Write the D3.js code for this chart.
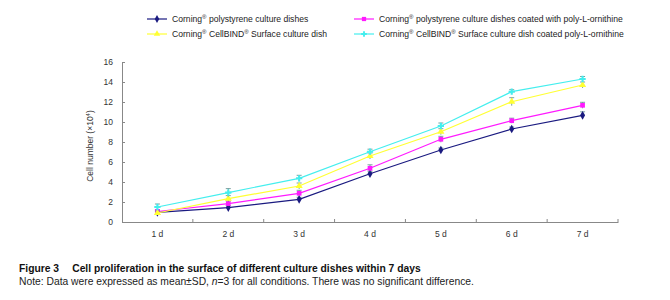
<!DOCTYPE html>
<html>
<head>
<meta charset="utf-8">
<script src="https://cdn.jsdelivr.net/npm/d3@7"></script>
<style>
  body { margin: 0; background: #fff; }
  svg { font-family: "Liberation Sans", Arial, sans-serif; }
</style>
</head>
<body>
<div id="chart"></div>
<script>
// data
const days = ["1 d", "2 d", "3 d", "4 d", "5 d", "6 d", "7 d"];
const yTicks = [0, 2, 4, 6, 8, 10, 12, 14, 16];

const polystyrene = [0.97, 1.44, 2.27, 4.83, 7.2, 9.3, 10.67];
const polystyreneSD = [0.15, 0.2, 0.2, 0.25, 0.2, 0.2, 0.35];
const polyOrnithine = [1.05, 1.84, 2.87, 5.37, 8.27, 10.13, 11.67];
const polyOrnithineSD = [0.2, 0.25, 0.3, 0.35, 0.3, 0.25, 0.3];
const cellBind = [0.9, 2.34, 3.6, 6.6, 9.03, 12.03, 13.7];
const cellBindSD = [0.2, 0.3, 0.3, 0.3, 0.3, 0.4, 0.3];
const cellBindOrn = [1.5, 2.94, 4.37, 7.03, 9.6, 13.03, 14.3];
const cellBindOrnSD = [0.3, 0.4, 0.3, 0.25, 0.3, 0.2, 0.25];

const series = [
  { name: "polystyrene culture dishes", bind: false, values: polystyrene, sd: polystyreneSD, color: "#1a1a80", symbol: d3.symbolDiamond },
  { name: "polystyrene culture dishes coated with poly-L-ornithine", bind: false, values: polyOrnithine, sd: polyOrnithineSD, color: "#ff1aff", symbol: d3.symbolSquare },
  { name: "Surface culture dish", bind: true, values: cellBind, sd: cellBindSD, color: "#ffff33", symbol: d3.symbolTriangle },
  { name: "Surface culture dish coated poly-L-ornithine", bind: true, values: cellBindOrn, sd: cellBindOrnSD, color: "#44eeee", symbol: d3.symbolCross }
];

const width = 670, height = 300;
const margin = { left: 122, right: 52, top: 62, bottom: 78 };

const svg = d3.select("#chart")
  .append("svg")
  .attr("width", width)
  .attr("height", height);

const x = d3.scaleBand()
  .domain(days)
  .range([margin.left, width - margin.right]);

const y = d3.scaleLinear()
  .domain([0, 16])
  .range([height - margin.bottom, margin.top]);

// axes
const axisColor = "#888";
const xAxis = svg.append("g")
  .attr("transform", `translate(0,${y(0)})`)
  .call(d3.axisBottom(x).tickSize(0).tickPadding(9));
xAxis.select(".domain").attr("stroke", axisColor);
xAxis.selectAll("text").attr("font-size", 8.5).attr("fill", "#333");

// x ticks at the band edges, pointing up
svg.append("g")
  .selectAll("line")
  .data(days)
  .join("line")
  .attr("x1", d => x(d) + x.bandwidth())
  .attr("x2", d => x(d) + x.bandwidth())
  .attr("y1", y(0))
  .attr("y2", y(0) - 3)
  .attr("stroke", axisColor);

const yAxis = svg.append("g")
  .attr("transform", `translate(${margin.left},0)`)
  .call(d3.axisLeft(y).tickValues(yTicks).tickSizeInner(-3).tickSizeOuter(0).tickPadding(9));
yAxis.select(".domain").attr("stroke", axisColor);
yAxis.selectAll(".tick line").attr("stroke", axisColor);
yAxis.selectAll("text").attr("font-size", 8.5).attr("fill", "#333");

// y axis title
const yt = svg.append("text")
  .attr("transform", `translate(93,146) rotate(-90)`)
  .attr("text-anchor", "middle")
  .attr("font-size", 8.5)
  .attr("fill", "#333");
yt.append("tspan").text("Cell number (×10");
yt.append("tspan").attr("font-size", 6).attr("dy", -3).text("4");
yt.append("tspan").attr("dy", 3).text(")");

// lines, error bars, markers
const cx = d => x(d) + x.bandwidth() / 2;
const line = d3.line()
  .x((d, i) => cx(days[i]))
  .y(d => y(d));

series.forEach(s => {
  const g = svg.append("g");
  g.append("path")
    .datum(s.values)
    .attr("fill", "none")
    .attr("stroke", s.color)
    .attr("stroke-width", 1.2)
    .attr("d", line);

  const eb = g.selectAll(".eb")
    .data(s.values)
    .join("g");
  eb.append("line")
    .attr("x1", (d, i) => cx(days[i]))
    .attr("x2", (d, i) => cx(days[i]))
    .attr("y1", (d, i) => y(d - s.sd[i]))
    .attr("y2", (d, i) => y(d + s.sd[i]))
    .attr("stroke", "#5a8a8a")
    .attr("stroke-width", 0.8);
  eb.append("line")
    .attr("x1", (d, i) => cx(days[i]) - 2.5)
    .attr("x2", (d, i) => cx(days[i]) + 2.5)
    .attr("y1", (d, i) => y(d + s.sd[i]))
    .attr("y2", (d, i) => y(d + s.sd[i]))
    .attr("stroke", "#5a8a8a")
    .attr("stroke-width", 0.8);

  g.selectAll(".pt")
    .data(s.values)
    .join("path")
    .attr("transform", (d, i) => `translate(${cx(days[i])},${y(d)})`)
    .attr("d", d3.symbol().type(s.symbol).size(22))
    .attr("fill", s.color);
});

// legend
const legendPos = [[147, 19], [354, 19], [147, 34], [354, 34]];
series.forEach((s, i) => {
  const [lx, ly] = legendPos[i];
  const lg = svg.append("g").attr("transform", `translate(${lx},${ly})`);
  lg.append("line").attr("x1", 0).attr("x2", 20).attr("stroke", s.color).attr("stroke-width", 1.2);
  lg.append("path").attr("transform", "translate(10,0)")
    .attr("d", d3.symbol().type(s.symbol).size(18)).attr("fill", s.color);
  const t = lg.append("text").attr("x", 25).attr("y", 3).attr("font-size", 8.6).attr("fill", "#222");
  t.append("tspan").text("Corning");
  t.append("tspan").attr("font-size", 6).attr("dy", -3).text("®");
  if (s.bind) {
    t.append("tspan").attr("dy", 3).text(" CellBIND");
    t.append("tspan").attr("font-size", 6).attr("dy", -3).text("®");
  }
  t.append("tspan").attr("dy", 3).text(" " + s.name);
});

// caption
svg.append("text")
  .attr("x", 19).attr("y", 272)
  .attr("font-size", 10.3).attr("font-weight", "bold").attr("fill", "#111")
  .text("Figure 3\u2003 Cell proliferation in the surface of different culture dishes within 7 days");
const note = svg.append("text")
  .attr("x", 19).attr("y", 285)
  .attr("font-size", 10.3).attr("fill", "#222");
note.append("tspan").text("Note: Data were expressed as mean±SD, ");
note.append("tspan").attr("font-style", "italic").text("n");
note.append("tspan").text("=3 for all conditions. There was no significant difference.");
</script>
</body>
</html>
